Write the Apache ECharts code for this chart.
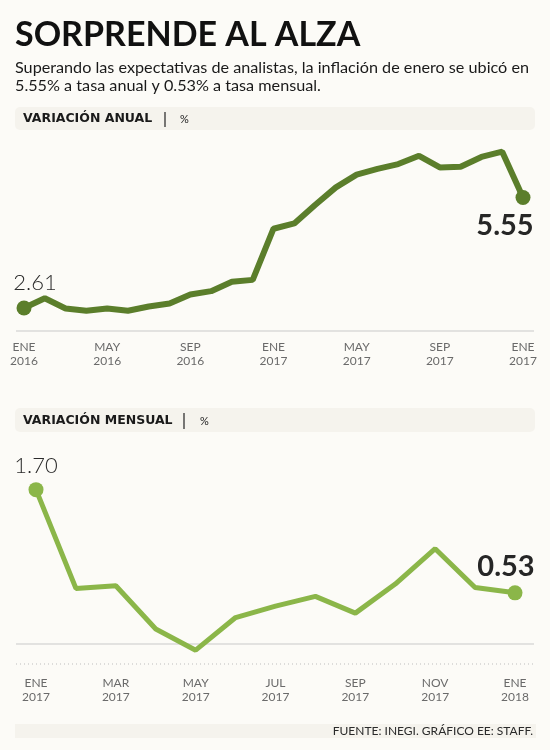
<!DOCTYPE html>
<html>
<head>
<meta charset="utf-8">
<script src="https://cdn.jsdelivr.net/npm/echarts@6/dist/echarts.min.js"></script>
<style>
  html, body { margin: 0; padding: 0; background: #fcfbf7; }
  #main { width: 550px; height: 750px; }
</style>
</head>
<body>
<div id="main"></div>
<script>
// inflación anual, ene 2016 - ene 2018
var mesesAnual = ['ENE\n2016', 'FEB', 'MAR', 'ABR', 'MAY\n2016', 'JUN', 'JUL', 'AGO', 'SEP\n2016', 'OCT', 'NOV', 'DIC',
    'ENE\n2017', 'FEB', 'MAR', 'ABR', 'MAY\n2017', 'JUN', 'JUL', 'AGO', 'SEP\n2017', 'OCT', 'NOV', 'DIC', 'ENE\n2017'];
var anual = [2.61, 2.87, 2.60, 2.54, 2.60, 2.54, 2.65, 2.73, 2.97, 3.06, 3.31, 3.36,
    4.72, 4.86, 5.35, 5.82, 6.16, 6.31, 6.44, 6.66, 6.35, 6.37, 6.63, 6.77, 5.55];

// inflación mensual, ene 2017 - ene 2018
var mesesMensual = ['ENE\n2017', 'FEB', 'MAR\n2017', 'ABR', 'MAY\n2017', 'JUN', 'JUL\n2017', 'AGO', 'SEP\n2017', 'OCT',
    'NOV\n2017', 'DIC', 'ENE\n2018'];
var mensual = [1.70, 0.58, 0.61, 0.12, -0.12, 0.25, 0.38, 0.49, 0.30, 0.63, 1.03, 0.59, 0.53];

var FONT = 'Lato, "Open Sans", sans-serif';

// solo el primer y el ultimo punto llevan circulo y etiqueta
function puntos(vals, first, last) {
    return vals.map(function (v, i) {
        if (i === 0) return { value: v, symbolSize: 15, label: first };
        if (i === vals.length - 1) return { value: v, symbolSize: 15, label: last };
        return { value: v, symbolSize: 0 };
    });
}

var dosDecimales = function (p) { return p.value.toFixed(2); };
var lblLigera = { show: true, position: 'top', formatter: dosDecimales, fontFamily: FONT, fontWeight: 300, fontSize: 22, color: '#2b2b2b' };
var lblFuerte = { show: true, formatter: dosDecimales, fontFamily: FONT, fontWeight: 'bold', fontSize: 29, color: '#262626' };

var ejeX = function (idx, datos, intervalo, margen) {
    return {
        type: 'category', gridIndex: idx, data: datos, boundaryGap: false,
        axisLine: { show: false }, axisTick: { show: false },
        axisLabel: {
            interval: intervalo, margin: margen, color: '#6a6a6a', fontFamily: FONT,
            fontSize: 12, lineHeight: 14
        }
    };
};

var option = {
    backgroundColor: '#fcfbf7',
    animation: false,
    grid: [
        { left: 24, right: 27, top: 143, bottom: 419 },
        { left: 36, right: 35, top: 472, bottom: 106 }
    ],
    xAxis: [
        ejeX(0, mesesAnual, 3, 9),
        ejeX(1, mesesMensual, 1, 32)
    ],
    yAxis: [
        { type: 'value', gridIndex: 0, min: 2, max: 7, show: false },
        { type: 'value', gridIndex: 1, min: -0.05, max: 1.9, show: false }
    ],
    series: [{
        name: 'Anual',
        type: 'line',
        xAxisIndex: 0, yAxisIndex: 0,
        symbol: 'circle',
        clip: false,
        lineStyle: { width: 6, color: '#5b7e2b' },
        itemStyle: { color: '#5b7e2b' },
        data: puntos(anual,
            Object.assign({}, lblLigera, { offset: [11, 0], distance: 7 }),
            Object.assign({}, lblFuerte, { position: 'bottom', offset: [-18, 0], distance: 6 }))
    }, {
        name: 'Mensual',
        type: 'line',
        xAxisIndex: 1, yAxisIndex: 1,
        symbol: 'circle',
        clip: false,
        lineStyle: { width: 5, color: '#8bb649' },
        itemStyle: { color: '#8bb649' },
        data: puntos(mensual,
            Object.assign({}, lblLigera, { offset: [0, 0], distance: 5 }),
            Object.assign({}, lblFuerte, { position: 'top', offset: [-9, 0], distance: 4 }))
    }],
    graphic: [
        // encabezado
        { type: 'text', style: { text: 'SORPRENDE AL ALZA', x: 15, y: 35, textVerticalAlign: 'middle',
            fontFamily: FONT, fontWeight: 'bold', fontSize: 34, fill: '#111' } },
        { type: 'text', style: { text: 'Superando las expectativas de analistas, la inflación de enero se ubicó en\n5.55% a tasa anual y 0.53% a tasa mensual.',
            x: 15, y: 59, fontFamily: FONT, fontSize: 16.2, lineHeight: 18, fill: '#1a1a1a' } },

        // barra variación anual
        { type: 'rect', shape: { x: 15, y: 107, width: 520, height: 23, r: 5 }, style: { fill: '#f5f3ed' } },
        { type: 'text', style: { text: 'VARIACIÓN ANUAL', x: 23, y: 119, textVerticalAlign: 'middle',
            fontFamily: '"DejaVu Sans", sans-serif', fontWeight: 'bold', fontSize: 12.5, fill: '#1a1a1a' } },
        { type: 'line', shape: { x1: 165, y1: 112, x2: 165, y2: 127 }, style: { stroke: '#222', lineWidth: 1.2 } },
        { type: 'text', style: { text: '%', x: 180, y: 119, textVerticalAlign: 'middle',
            fontFamily: FONT, fontSize: 11, fill: '#1a1a1a' } },
        { type: 'line', shape: { x1: 16, y1: 331, x2: 534, y2: 331 }, style: { stroke: '#c9c9c9', lineWidth: 1 } },

        // barra variación mensual
        { type: 'rect', shape: { x: 15, y: 408, width: 520, height: 24, r: 5 }, style: { fill: '#f5f3ed' } },
        { type: 'text', style: { text: 'VARIACIÓN MENSUAL', x: 23, y: 421, textVerticalAlign: 'middle',
            fontFamily: '"DejaVu Sans", sans-serif', fontWeight: 'bold', fontSize: 12.5, fill: '#1a1a1a' } },
        { type: 'line', shape: { x1: 184, y1: 413, x2: 184, y2: 429 }, style: { stroke: '#222', lineWidth: 1.2 } },
        { type: 'text', style: { text: '%', x: 200, y: 421, textVerticalAlign: 'middle',
            fontFamily: FONT, fontSize: 11, fill: '#1a1a1a' } },
        { type: 'line', shape: { x1: 16, y1: 644, x2: 534, y2: 644 }, style: { stroke: '#c9c9c9', lineWidth: 1 } },
        { type: 'line', shape: { x1: 16, y1: 664, x2: 534, y2: 664 }, style: { stroke: '#bdbdbd', lineWidth: 1, lineDash: [1, 3] } },

        // fuente
        { type: 'rect', shape: { x: 15, y: 724, width: 521, height: 14 }, style: { fill: '#f5f3ed' } },
        { type: 'text', style: { text: 'FUENTE: INEGI. GRÁFICO EE: STAFF.', x: 533, y: 731, textAlign: 'right',
            textVerticalAlign: 'middle', fontFamily: FONT, fontSize: 12, fill: '#2a2a2a' } }
    ]
};

var myChart = echarts.init(document.getElementById('main'));
myChart.setOption(option);
</script>
</body>
</html>
